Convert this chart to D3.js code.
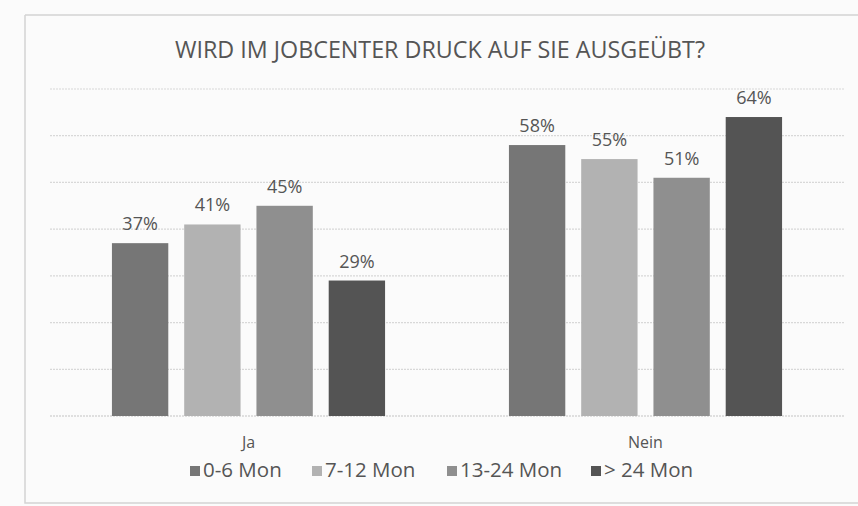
<!DOCTYPE html>
<html>
<head>
<meta charset="utf-8">
<script src="https://cdn.jsdelivr.net/npm/d3@7"></script>
<style>
  body { margin: 0; background: #fbfbfb; }
  svg { display: block; }
  text { font-family: "Open Sans", sans-serif; fill: #555; }
</style>
</head>
<body>
<svg id="chart" width="858" height="506"></svg>
<script>
// chart data
const categories = ["Ja", "Nein"];
const seriesNames = ["0-6 Mon", "7-12 Mon", "13-24 Mon", "> 24 Mon"];
const values = [
  [37, 58],   // 0-6 Mon
  [41, 55],   // 7-12 Mon
  [45, 51],   // 13-24 Mon
  [29, 64]    // > 24 Mon
];
const colors = ["#767676", "#b2b2b2", "#8f8f8f", "#545454"];
const yTicks = [0, 10, 20, 30, 40, 50, 60, 70];

const svg = d3.select("#chart");
const margin = { left: 50, right: 14, top: 89, bottom: 90 };
const width = 858, height = 506;

// outer frame of the chart area (scan shows it cut at right)
svg.append("path")
  .attr("d", "M25,15 L858,15 M25,15 L25,503 L858,503")
  .attr("stroke", "#d4d4d4")
  .attr("stroke-width", 1.5)
  .attr("fill", "none");

const x0 = d3.scaleBand()
  .domain(categories)
  .range([margin.left, width - margin.right])
  .paddingInner(0.312)
  .paddingOuter(0.156);

const x1 = d3.scaleBand()
  .domain(seriesNames)
  .range([0, x0.bandwidth()])
  .paddingInner(0.22);

const y = d3.scaleLinear()
  .domain([0, 70])
  .range([height - margin.bottom, margin.top]);

// gridlines
svg.append("g")
  .selectAll("line")
  .data(yTicks)
  .join("line")
  .attr("x1", margin.left)
  .attr("x2", width - margin.right)
  .attr("y1", d => y(d))
  .attr("y2", d => y(d))
  .attr("stroke", d => d === 0 ? "#c4c4c4" : "#d8d8d8")
  .attr("stroke-width", 1.2)
  .attr("stroke-dasharray", "2,1");

// bars
const groups = svg.append("g")
  .selectAll("g")
  .data(categories)
  .join("g")
  .attr("transform", d => `translate(${x0(d)},0)`);

groups.selectAll("rect")
  .data((c, ci) => seriesNames.map((s, si) => ({ s, si, v: values[si][ci] })))
  .join("rect")
  .attr("x", d => x1(d.s))
  .attr("width", x1.bandwidth())
  .attr("y", d => y(d.v))
  .attr("height", d => y(0) - y(d.v))
  .attr("fill", d => colors[d.si]);

// data labels
groups.selectAll("text")
  .data((c, ci) => seriesNames.map((s, si) => ({ s, si, v: values[si][ci] })))
  .join("text")
  .attr("x", d => x1(d.s) + x1.bandwidth() / 2)
  .attr("y", d => y(d.v) - 13)
  .attr("text-anchor", "middle")
  .attr("font-size", 18)
  .text(d => d.v + "%");

// category labels
svg.append("g")
  .selectAll("text")
  .data(categories)
  .join("text")
  .attr("x", d => x0(d) + x0.bandwidth() / 2)
  .attr("y", 448)
  .attr("text-anchor", "middle")
  .attr("font-size", 16)
  .text(d => d);

// title
svg.append("text")
  .attr("x", 440)
  .attr("y", 58)
  .attr("text-anchor", "middle")
  .attr("font-size", 23)
  .attr("textLength", 530)
  .attr("lengthAdjust", "spacingAndGlyphs")
  .text("WIRD IM JOBCENTER DRUCK AUF SIE AUSGEÜBT?");

// legend
const legendX = [190, 312, 447, 591];
const legend = svg.append("g")
  .selectAll("g")
  .data(seriesNames)
  .join("g")
  .attr("transform", (d, i) => `translate(${legendX[i]},466)`);

legend.append("rect")
  .attr("width", 10)
  .attr("height", 10)
  .attr("fill", (d, i) => colors[i]);

legend.append("text")
  .attr("x", 13)
  .attr("y", 11)
  .attr("font-size", 20.5)
  .text(d => d);
</script>
</body>
</html>
